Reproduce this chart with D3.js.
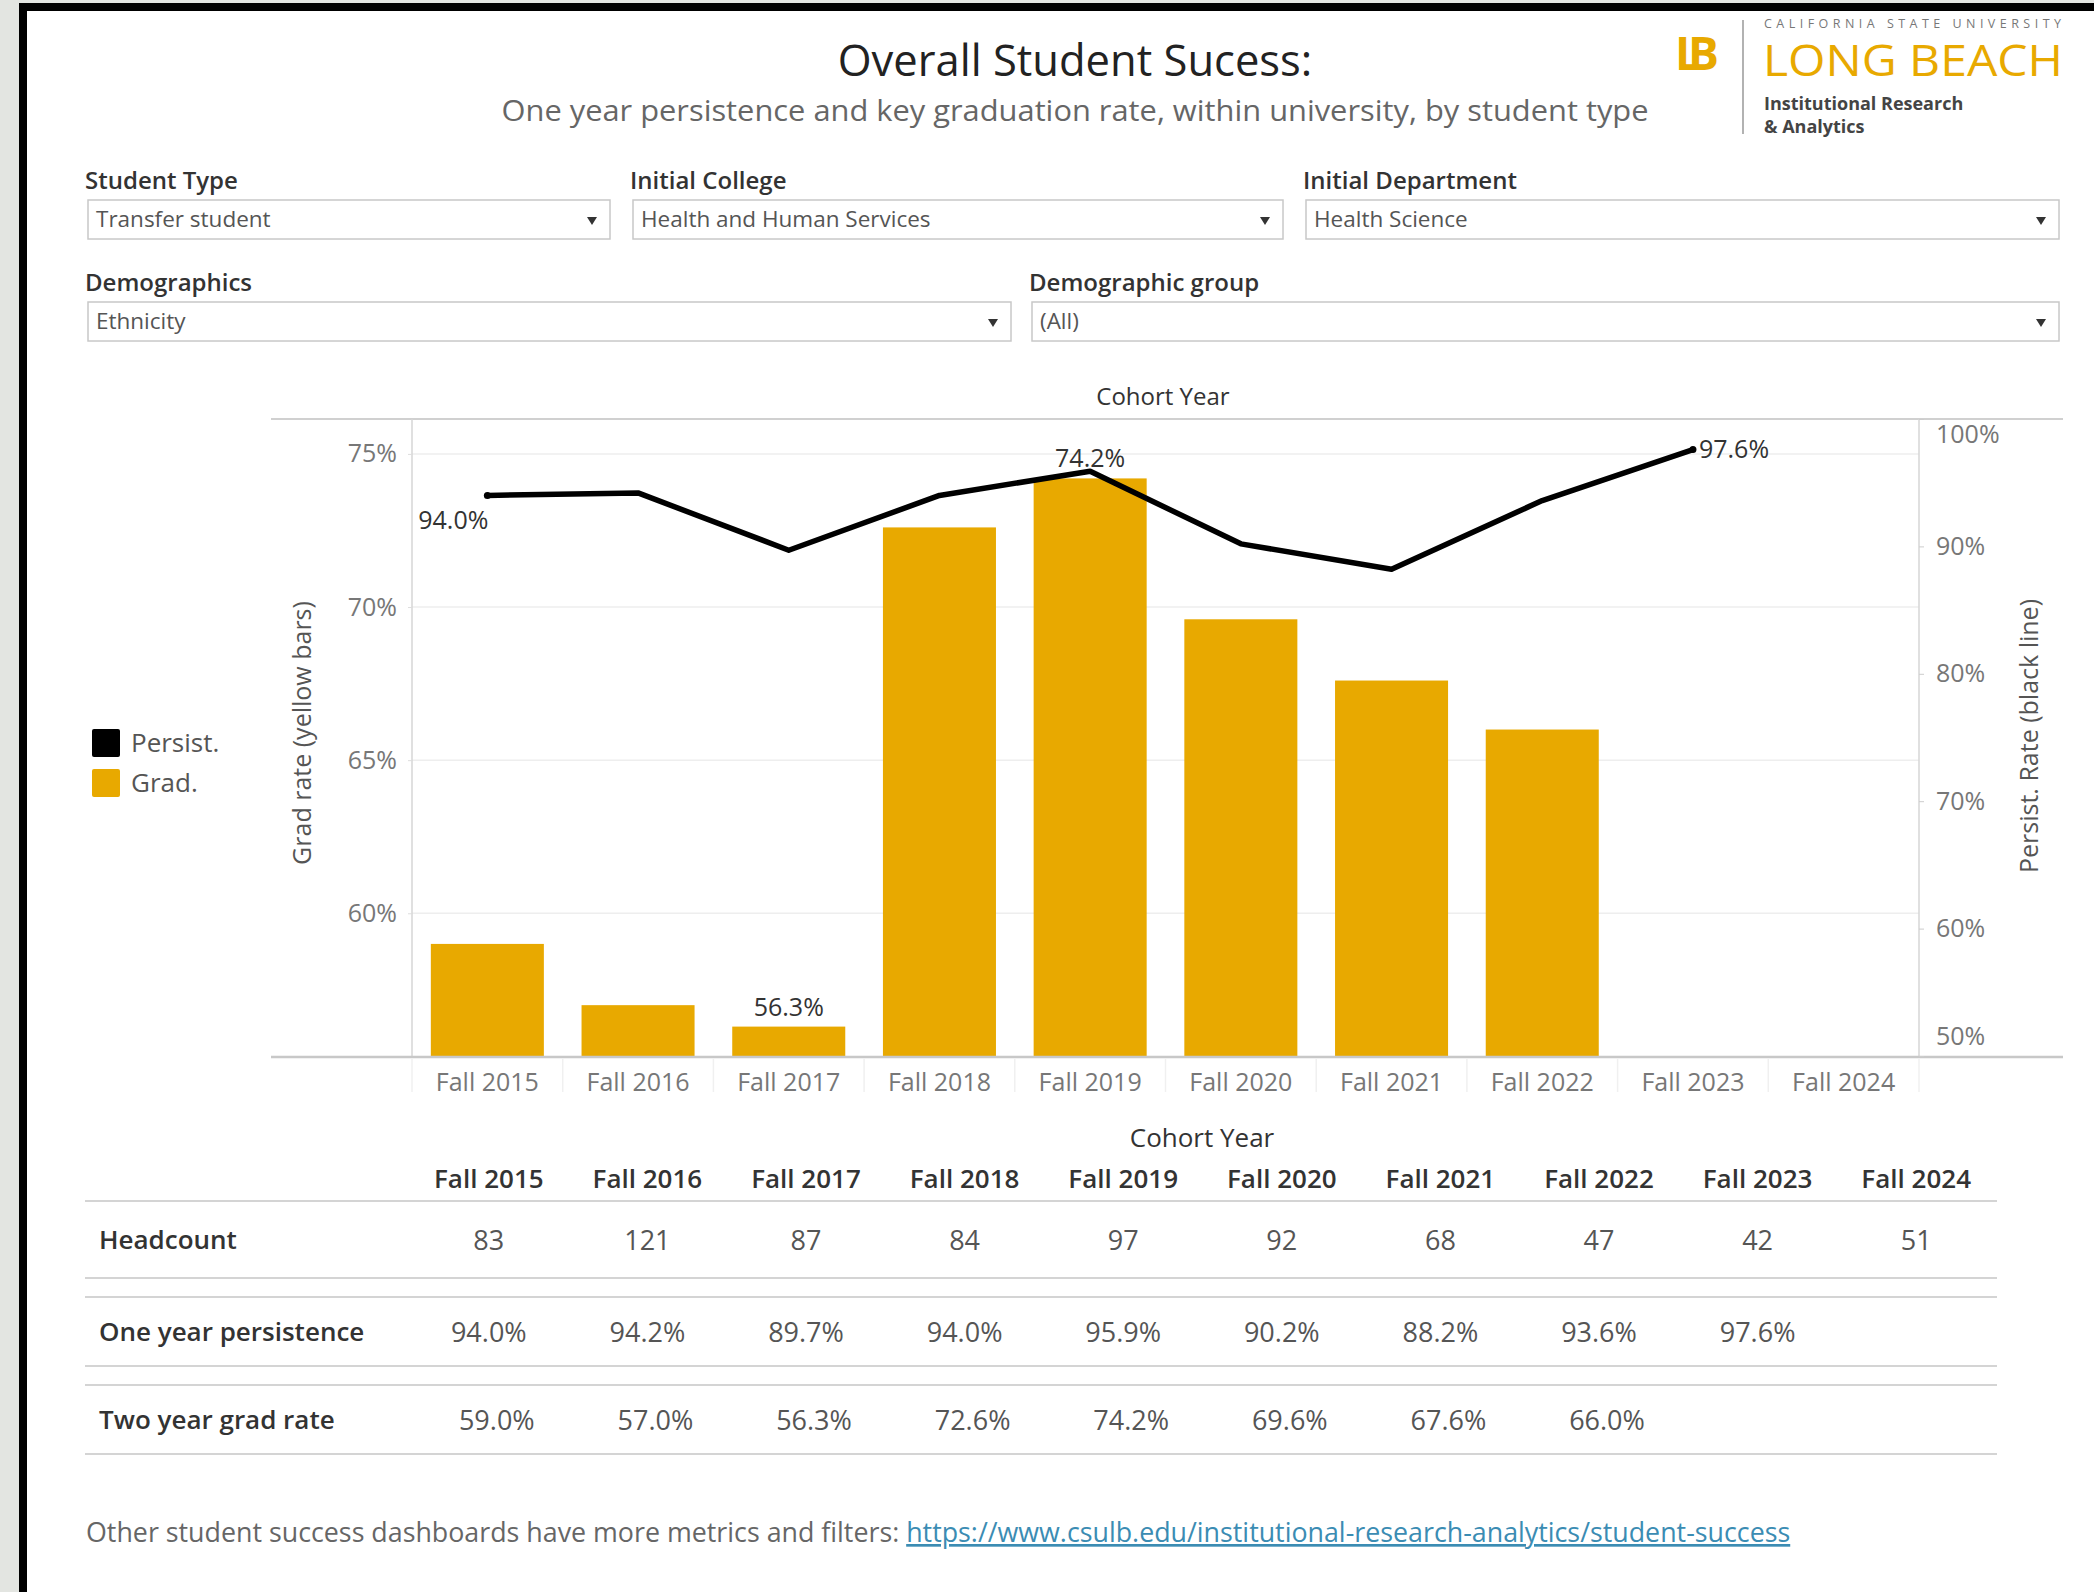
<!DOCTYPE html>
<html>
<head>
<meta charset="utf-8">
<script src="https://cdn.jsdelivr.net/npm/d3@7"></script>
<style>
body { margin: 0; background: #fff; }
svg text { font-family: "Open Sans", Lato, sans-serif; }
</style>
</head>
<body>
<div id="chart"></div>
<script>
// data
var years = ["Fall 2015", "Fall 2016", "Fall 2017", "Fall 2018", "Fall 2019",
             "Fall 2020", "Fall 2021", "Fall 2022", "Fall 2023", "Fall 2024"];
var headcount = [83, 121, 87, 84, 97, 92, 68, 47, 42, 51];
var persistRate = [94.0, 94.2, 89.7, 94.0, 95.9, 90.2, 88.2, 93.6, 97.6, null];
var gradRate = [59.0, 57.0, 56.3, 72.6, 74.2, 69.6, 67.6, 66.0, null, null];
var gradTicks = [60, 65, 70, 75];
var persistTicks = [50, 60, 70, 80, 90, 100];
var filterLabels = ["Student Type", "Initial College", "Initial Department", "Demographics", "Demographic group"];
var filterValues = ["Transfer student", "Health and Human Services", "Health Science", "Ethnicity", "(All)"];
var rowLabels = ["Headcount", "One year persistence", "Two year grad rate"];

var data = years.map(function(y, i) {
    return {year: y, count: headcount[i], persist: persistRate[i], grad: gradRate[i]};
});

var svgWidth = 2094;
var svgHeight = 1592;
var gold = "#e8a900";

var svg = d3.select("#chart")
    .append("svg")
    .attr("width", svgWidth)
    .attr("height", svgHeight);

// frame
svg.append("rect").attr("width", svgWidth).attr("height", svgHeight).attr("fill", "#e3e5e1");
svg.append("rect").attr("x", 19).attr("y", 3).attr("width", svgWidth - 19).attr("height", svgHeight - 3).attr("fill", "#000");
svg.append("rect").attr("x", 27).attr("y", 11).attr("width", svgWidth - 27).attr("height", svgHeight - 11).attr("fill", "#fff");

// title
svg.append("text")
    .attr("x", 1075).attr("y", 76)
    .attr("text-anchor", "middle")
    .attr("font-size", 43.5)
    .attr("font-weight", 500)
    .attr("fill", "#222")
    .text("Overall Student Sucess:");
svg.append("text")
    .attr("x", 1075).attr("y", 121)
    .attr("text-anchor", "middle")
    .attr("font-size", 30)
    .attr("fill", "#666")
    .attr("textLength", 1147).attr("lengthAdjust", "spacingAndGlyphs")
    .text("One year persistence and key graduation rate, within university, by student type");

// logo
var logo = svg.append("g");
logo.append("text").attr("x", 1675).attr("y", 70).attr("font-family", "'DejaVu Serif', serif")
    .attr("font-size", 46).attr("font-weight", "bold").attr("fill", gold)
    .attr("letter-spacing", -13).text("LB");
logo.append("line").attr("x1", 1743).attr("x2", 1743).attr("y1", 20).attr("y2", 134)
    .attr("stroke", "#999").attr("stroke-width", 1.5);
logo.append("text").attr("x", 1764).attr("y", 28).attr("font-size", 12.5).attr("fill", "#777")
    .attr("textLength", 297).attr("lengthAdjust", "spacing").text("CALIFORNIA STATE UNIVERSITY");
logo.append("text").attr("x", 1763).attr("y", 76).attr("font-size", 44).attr("fill", gold)
    .attr("font-family", "Lato, sans-serif")
    .attr("textLength", 300).attr("lengthAdjust", "spacingAndGlyphs").text("LONG BEACH");
var inst = logo.append("text").attr("font-size", 18).attr("font-weight", "bold").attr("fill", "#444");
inst.append("tspan").attr("x", 1764).attr("y", 110).text("Institutional Research");
inst.append("tspan").attr("x", 1764).attr("y", 133).text("& Analytics");

// filter boxes
var filterBoxes = [
    {x: 88, w: 522, y: 200}, {x: 633, w: 650, y: 200}, {x: 1306, w: 753, y: 200},
    {x: 88, w: 923, y: 302}, {x: 1032, w: 1027, y: 302}
];
filterBoxes.forEach(function(b, i) {
    var g = svg.append("g");
    g.append("text").attr("x", b.x - 3).attr("y", b.y - 11).attr("font-size", 24)
        .attr("font-weight", 600).attr("fill", "#333").text(filterLabels[i]);
    g.append("rect").attr("x", b.x).attr("y", b.y).attr("width", b.w).attr("height", 39)
        .attr("fill", "#fff").attr("stroke", "#c8c8c8").attr("stroke-width", 1.5);
    g.append("text").attr("x", b.x + 8).attr("y", b.y + 27).attr("font-size", 22.5)
        .attr("fill", "#555").text(filterValues[i]);
    var ax = b.x + b.w - 18, ay = b.y + 17;
    g.append("path").attr("d", "M" + (ax - 5) + "," + ay + "L" + (ax + 5) + "," + ay + "L" + ax + "," + (ay + 8) + "Z")
        .attr("fill", "#333");
});

// chart area
var plot = {left: 412, right: 1919, top: 419, bottom: 1056};

var xScale = d3.scaleBand().domain(years)
    .range([plot.left, plot.right])
    .paddingInner(0.25).paddingOuter(0.125);
var yGrad = d3.scaleLinear().domain([55.34, 76.14]).range([plot.bottom, plot.top]);
var yPersist = d3.scaleLinear().domain([50, 100]).range([plot.bottom, plot.top]);

svg.append("text").attr("x", 1163).attr("y", 405).attr("text-anchor", "middle")
    .attr("font-size", 24).attr("fill", "#333").text("Cohort Year");

// gridlines
svg.append("g").selectAll("line").data(gradTicks).enter().append("line")
    .attr("x1", plot.left).attr("x2", plot.right)
    .attr("y1", function(d) { return yGrad(d); }).attr("y2", function(d) { return yGrad(d); })
    .attr("stroke", "#eeeeee").attr("stroke-width", 1.5);

// frame lines
svg.append("line").attr("x1", 271).attr("x2", 2063).attr("y1", plot.top).attr("y2", plot.top)
    .attr("stroke", "#d0d0d0").attr("stroke-width", 2);
svg.append("line").attr("x1", plot.left).attr("x2", plot.left).attr("y1", plot.top).attr("y2", plot.bottom)
    .attr("stroke", "#d6d6d6").attr("stroke-width", 1.5);
svg.append("line").attr("x1", plot.right).attr("x2", plot.right).attr("y1", plot.top).attr("y2", plot.bottom)
    .attr("stroke", "#d6d6d6").attr("stroke-width", 1.5);

// bars
svg.append("g").selectAll("rect")
    .data(data.filter(function(d) { return d.grad != null; }))
    .enter().append("rect")
    .attr("x", function(d) { return xScale(d.year); })
    .attr("width", xScale.bandwidth())
    .attr("y", function(d) { return yGrad(d.grad); })
    .attr("height", function(d) { return plot.bottom - yGrad(d.grad); })
    .attr("fill", gold);

// baseline
svg.append("line").attr("x1", 271).attr("x2", 2063).attr("y1", plot.bottom + 1).attr("y2", plot.bottom + 1)
    .attr("stroke", "#c8c8c8").attr("stroke-width", 2.5);

// header dividers under the axis
var step = xScale.step();
svg.append("g").selectAll("line").data(d3.range(years.length + 1)).enter().append("line")
    .attr("x1", function(i) { return plot.left + i * step; })
    .attr("x2", function(i) { return plot.left + i * step; })
    .attr("y1", plot.bottom + 3).attr("y2", plot.bottom + 36)
    .attr("stroke", "#f0f0f0").attr("stroke-width", 1.5);

// persist line
var persistLine = d3.line()
    .defined(function(d) { return d.persist != null; })
    .x(function(d) { return xScale(d.year) + xScale.bandwidth() / 2; })
    .y(function(d) { return yPersist(d.persist); });
svg.append("path").datum(data)
    .attr("d", persistLine)
    .attr("fill", "none").attr("stroke", "#000").attr("stroke-width", 5.5)
    .attr("stroke-linejoin", "round");

var persistPts = data.filter(function(d) { return d.persist != null; });
var firstP = persistPts[0], lastP = persistPts[persistPts.length - 1];
svg.append("g").selectAll("circle").data([firstP, lastP]).enter().append("circle")
    .attr("cx", function(d) { return xScale(d.year) + xScale.bandwidth() / 2; })
    .attr("cy", function(d) { return yPersist(d.persist); })
    .attr("r", 3.5).attr("fill", "#000");

// axes
var leftAxis = d3.axisLeft(yGrad).tickValues(gradTicks)
    .tickFormat(function(d) { return d + "%"; }).tickSize(4).tickPadding(11);
var gl = svg.append("g").attr("transform", "translate(" + plot.left + ",0)").call(leftAxis);
gl.select(".domain").remove();
gl.selectAll("line").attr("stroke", "#ddd");
gl.selectAll("text").attr("font-size", 25).attr("fill", "#777").attr("font-family", null);

var rightAxis = d3.axisRight(yPersist).tickValues(persistTicks)
    .tickFormat(function(d) { return d + "%"; }).tickSize(5).tickPadding(12);
var gr = svg.append("g").attr("transform", "translate(" + plot.right + ",0)").call(rightAxis);
gr.select(".domain").remove();
gr.selectAll("line").attr("stroke", "#ccc");
gr.selectAll("text").attr("font-size", 25).attr("fill", "#777").attr("font-family", null)
    .attr("dy", function(d) { return d === 100 ? "0.95em" : (d === 50 ? "-0.45em" : "0.32em"); });

var bottomAxis = d3.axisBottom(xScale).tickSize(0).tickPadding(17);
var gb = svg.append("g").attr("transform", "translate(0," + plot.bottom + ")").call(bottomAxis);
gb.select(".domain").remove();
gb.selectAll("text").attr("font-size", 25).attr("fill", "#777").attr("font-family", null);

// axis titles
svg.append("text").attr("transform", "translate(311,733) rotate(-90)")
    .attr("text-anchor", "middle").attr("font-size", 25).attr("font-weight", 500).attr("fill", "#555")
    .text("Grad rate (yellow bars)");
svg.append("text").attr("transform", "translate(2038,736) rotate(-90)")
    .attr("text-anchor", "middle").attr("font-size", 25).attr("font-weight", 500).attr("fill", "#555")
    .text("Persist. Rate (black line)");

// mark labels
var fmt = function(v) { return v.toFixed(1) + "%"; };
var gradPts = data.filter(function(d) { return d.grad != null; });
var maxG = gradPts.reduce(function(a, b) { return b.grad > a.grad ? b : a; });
var minG = gradPts.reduce(function(a, b) { return b.grad < a.grad ? b : a; });
[maxG, minG].forEach(function(d) {
    svg.append("text")
        .attr("x", xScale(d.year) + xScale.bandwidth() / 2)
        .attr("y", yGrad(d.grad) - 11)
        .attr("text-anchor", "middle").attr("font-size", 25).attr("fill", "#333")
        .text(fmt(d.grad));
});
svg.append("text")
    .attr("x", xScale(firstP.year) + xScale.bandwidth() / 2 + 1)
    .attr("y", yPersist(firstP.persist) + 34)
    .attr("text-anchor", "end").attr("font-size", 25).attr("fill", "#333")
    .text(fmt(firstP.persist));
svg.append("text")
    .attr("x", xScale(lastP.year) + xScale.bandwidth() / 2 + 6)
    .attr("y", yPersist(lastP.persist) + 8)
    .attr("text-anchor", "start").attr("font-size", 25).attr("fill", "#333")
    .text(fmt(lastP.persist));

// legend
var legendItems = [{name: "Persist.", color: "#000"}, {name: "Grad.", color: gold}];
var lg = svg.append("g").selectAll("g").data(legendItems).enter().append("g")
    .attr("transform", function(d, i) { return "translate(92," + (729 + i * 40) + ")"; });
lg.append("rect").attr("width", 28).attr("height", 28).attr("rx", 2).attr("fill", function(d) { return d.color; });
lg.append("text").attr("x", 39).attr("y", 23).attr("font-size", 26).attr("fill", "#555")
    .text(function(d) { return d.name; });

// summary table
var colScale = d3.scaleBand().domain(years).range([409.5, 1995.5]);
var colX = function(y) { return colScale(y) + colScale.bandwidth() / 2; };

svg.append("text").attr("x", 1202).attr("y", 1147).attr("text-anchor", "middle")
    .attr("font-size", 26).attr("fill", "#333").text("Cohort Year");
svg.append("g").selectAll("text").data(years).enter().append("text")
    .attr("x", colX).attr("y", 1188).attr("text-anchor", "middle")
    .attr("font-size", 26).attr("font-weight", 600).attr("fill", "#333")
    .text(function(d) { return d; });

var rowBands = [{top: 1201, bottom: 1278}, {top: 1297, bottom: 1366}, {top: 1385, bottom: 1454}];
var rowValues = [
    data.map(function(d) { return d.count; }),
    data.map(function(d) { return d.persist == null ? "" : fmt(d.persist); }),
    data.map(function(d) { return d.grad == null ? "" : fmt(d.grad); })
];
var rowShift = [0, 0, 8];
rowBands.forEach(function(b, r) {
    var g = svg.append("g");
    [b.top, b.bottom].forEach(function(ly) {
        g.append("line").attr("x1", 85).attr("x2", 1997).attr("y1", ly).attr("y2", ly)
            .attr("stroke", "#d4d4d4").attr("stroke-width", 2);
    });
    var cy = (b.top + b.bottom) / 2 + 9;
    g.append("text").attr("x", 99).attr("y", cy).attr("font-size", 26).attr("font-weight", 600)
        .attr("fill", "#333").text(rowLabels[r]);
    g.selectAll(".v").data(rowValues[r]).enter().append("text")
        .attr("x", function(d, i) { return colX(years[i]) + rowShift[r]; })
        .attr("y", cy + 1).attr("text-anchor", "middle")
        .attr("font-size", 27).attr("fill", "#555")
        .text(function(d) { return d; });
});

// footer
var foot = svg.append("text").attr("x", 86).attr("y", 1542).attr("font-size", 26.8).attr("fill", "#666");
foot.append("tspan").text("Other student success dashboards have more metrics and filters: ");
foot.append("tspan").attr("fill", "#3b8cb3").attr("text-decoration", "underline")
    .text("https://www.csulb.edu/institutional-research-analytics/student-success");
</script>
</body>
</html>
